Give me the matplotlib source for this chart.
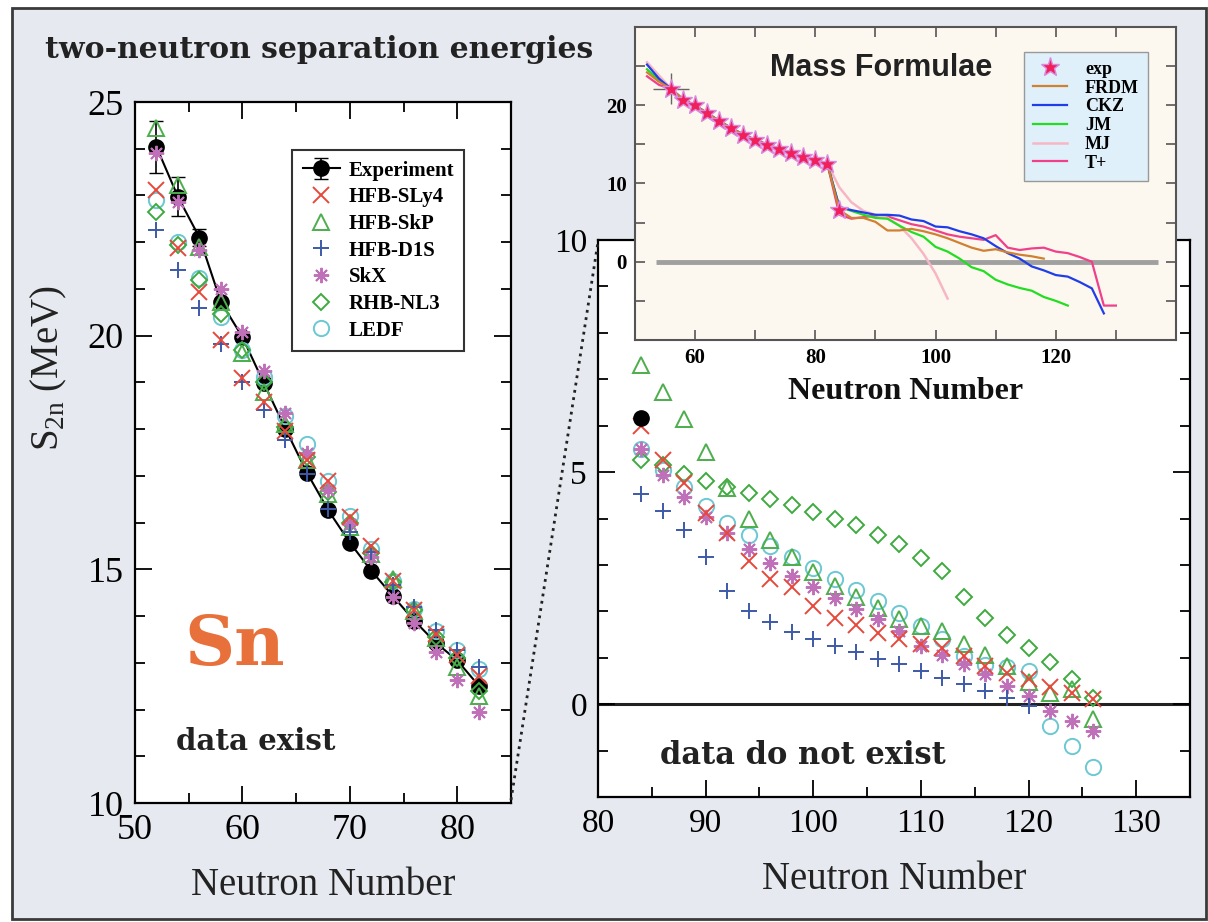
import matplotlib.pyplot as plt
import numpy as np
from matplotlib.lines import Line2D
from matplotlib.patches import Rectangle
from matplotlib.ticker import MultipleLocator

# ---- left panel: Sn, N = 52..82 (data exist)
N_left = [52, 54, 56, 58, 60, 62, 64, 66, 68, 70, 72, 74, 76, 78, 80, 82]
exp_left = [24.04, 22.97, 22.10, 20.72, 19.97, 18.98, 18.01, 17.07, 16.26, 15.57, 14.97, 14.43, 13.90, 13.43, 13.05, 12.51]
exp_err = [0.56, 0.42, 0.18, 0.06, 0, 0, 0, 0, 0, 0, 0, 0, 0, 0, 0, 0]
sly4_left = [23.11, 21.87, 20.93, 19.90, 19.09, 18.57, 17.97, 17.33, 16.88, 16.12, 15.50, 14.76, 14.12, 13.62, 13.16, 12.72]
skp_left = [24.45, 23.22, 21.90, 20.72, 19.62, 18.79, 18.10, 17.33, 16.62, 15.90, 15.33, 14.80, 14.10, 13.52, 12.92, 12.30]
d1s_left = [22.26, 21.40, 20.59, 19.83, 19.00, 18.40, 17.76, 17.05, 16.30, 15.80, 15.38, 14.66, 14.20, 13.71, 13.27, 12.90]
skx_left = [23.90, 22.86, 21.83, 20.99, 20.07, 19.24, 18.34, 17.48, 16.69, 15.97, 15.26, 14.40, 13.85, 13.24, 12.63, 11.95]
rhb_left = [22.64, 21.94, 21.19, 20.46, 19.69, 19.00, 18.04, 17.40, 16.65, 16.00, 15.36, 14.73, 14.12, 13.55, 13.10, 12.40]
ledf_left = [22.90, 22.00, 21.23, 20.39, 19.69, 19.11, 18.29, 17.69, 16.90, 16.15, 15.44, 14.76, 14.16, 13.67, 13.27, 12.87]

# ---- right panel: N = 84..126 (data do not exist)
N_right = [84, 86, 88, 90, 92, 94, 96, 98, 100, 102, 104, 106, 108, 110, 112, 114, 116, 118, 120, 122, 124, 126]
exp_right = [6.17]
sly4_right = [5.99, 5.27, 4.76, 4.12, 3.68, 3.08, 2.70, 2.53, 2.11, 1.86, 1.70, 1.54, 1.40, 1.29, 1.20, 1.04, 0.82, 0.68, 0.54, 0.36, 0.25, 0.12]
skp_right = [7.30, 6.72, 6.15, 5.44, 4.65, 3.98, 3.54, 3.18, 2.85, 2.54, 2.31, 2.08, 1.83, 1.68, 1.58, 1.29, 1.07, 0.82, 0.47, 0.25, 0.32, -0.33]
d1s_right = [4.53, 4.17, 3.76, 3.18, 2.43, 2.00, 1.76, 1.55, 1.41, 1.26, 1.12, 0.98, 0.86, 0.71, 0.57, 0.43, 0.29, 0.14, -0.04]
skx_right = [5.50, 4.94, 4.47, 4.04, 3.68, 3.34, 3.05, 2.77, 2.53, 2.29, 2.06, 1.83, 1.58, 1.25, 1.07, 0.86, 0.64, 0.39, 0.18, -0.14, -0.36, -0.57]
rhb_right = [5.26, 5.15, 4.95, 4.81, 4.68, 4.54, 4.41, 4.29, 4.15, 3.99, 3.86, 3.65, 3.45, 3.15, 2.86, 2.31, 1.86, 1.50, 1.22, 0.90, 0.54, 0.14]
ledf_right = [5.50, 5.04, 4.68, 4.27, 3.91, 3.65, 3.41, 3.18, 2.93, 2.70, 2.47, 2.22, 1.97, 1.68, 1.40, 1.04, 0.85, 0.79, 0.72, -0.47, -0.90, -1.36]

# ---- inset: mass formulae
N_star = [56, 58, 60, 62, 64, 66, 68, 70, 72, 74, 76, 78, 80, 82, 84]
star_vals = [22.10, 20.72, 19.97, 18.98, 18.01, 17.07, 16.26, 15.57, 14.97, 14.43, 13.90, 13.43, 13.05, 12.51, 6.6]
shared = [22.10, 20.72, 19.97, 18.98, 18.01, 17.07, 16.26, 15.57, 14.97, 14.43, 13.90, 13.43, 13.05, 12.51]
frdm = [24.2, 23.0] + shared + [6.6, 5.6, 5.6, 5.1, 4.0, 4.0, 4.2, 3.9, 3.5, 3.0, 2.4, 1.8, 1.4, 1.6, 1.2, 0.9, 0.7, 0.4]
ckz = [25.2, 23.4] + shared + [7.0, 6.6, 6.3, 6.0, 6.0, 5.9, 5.4, 5.2, 4.5, 4.4, 3.9, 3.5, 3.0, 2.0, 1.1, 0.4, -0.6, -1.1, -1.7, -1.9, -2.6, -3.4, -6.6]
jm = [24.6, 23.2] + shared + [7.0, 6.5, 6.0, 5.6, 5.5, 4.6, 3.8, 3.2, 1.9, 1.3, 0.4, -0.7, -1.2, -2.3, -2.9, -3.35, -3.7, -4.5, -5.0, -5.6]
mj = [25.5, 23.8] + shared + [9.5, 7.6, 6.5, 6.0, 5.6, 4.6, 3.0, 1.0, -1.5, -4.7]
tplus = [23.7, 22.6] + shared + [6.0, 5.5, 5.7, 5.9, 5.8, 5.3, 4.8, 4.5, 4.0, 3.5, 3.2, 3.0, 2.8, 3.4, 1.8, 1.5, 1.7, 1.8, 1.3, 1.1, 0.6, 0.0, -5.6, -5.6]

W, H = 1208, 922
def fx(p):
    return p / W
def fy(p):
    return 1 - p / H

serif = 'Liberation Serif'
c_sly4 = '#e8483c'
c_skp = '#4cae4c'
c_d1s = '#3d5aa8'
c_skx = '#c070b8'
c_rhb = '#3faa3f'
c_ledf = '#6cc8d2'

fig = plt.figure(figsize=(12.08, 9.22), dpi=100)
fig.patch.set_facecolor('white')
fig.add_artist(Rectangle((fx(12), fy(919)), fx(1206) - fx(12), fy(8) - fy(919),
                         transform=fig.transFigure, facecolor='#e6e9ef',
                         edgecolor='#3a3a3a', lw=2, zorder=-10))

fig.text(fx(45), fy(58), 'two-neutron separation energies', family='DejaVu Serif',
         fontweight='bold', fontsize=21.5, color='#222222', ha='left', va='baseline')


def style_axes(ax, size):
    for s in ax.spines.values():
        s.set_linewidth(1.6)
    ax.tick_params(which='both', direction='in', top=True, right=True,
                   labelsize=size, width=1.3, pad=8)
    ax.tick_params(which='major', length=12)
    ax.tick_params(which='minor', length=7)
    for lab in ax.get_xticklabels() + ax.get_yticklabels():
        lab.set_family(serif)


def markers(ax, N, sly4, skp, d1s, skx, rhb, ledf, ms):
    ax.plot(N[:len(ledf)], ledf, 'o', ms=ms, mfc='none', mec=c_ledf, mew=1.4, label='LEDF')
    ax.plot(N[:len(rhb)], rhb, 'D', ms=ms * 0.7, mfc='none', mec=c_rhb, mew=1.4, label='RHB-NL3')
    ax.plot(N[:len(skp)], skp, '^', ms=ms, mfc='none', mec=c_skp, mew=1.4, label='HFB-SkP')
    ax.plot(N[:len(skx)], skx, marker=(8, 2, 0), ls='none', ms=ms, mec=c_skx, mew=1.4, label='SkX')
    ax.plot(N[:len(d1s)], d1s, '+', ms=ms * 1.1, mec=c_d1s, mew=1.4, label='HFB-D1S')
    ax.plot(N[:len(sly4)], sly4, 'x', ms=ms, mec=c_sly4, mew=1.4, label='HFB-SLy4')


# ---------------- left panel
ax1 = fig.add_axes([fx(135), fy(803), fx(511) - fx(135), fy(102) - fy(803)])
markers(ax1, N_left, sly4_left, skp_left, d1s_left, skx_left, rhb_left, ledf_left, 11)
ax1.errorbar(N_left, exp_left, yerr=exp_err, color='black', lw=1.5, marker='o', ms=11,
             capsize=5, elinewidth=1.2, label='Experiment', zorder=1)
ax1.set_xlim(50, 85)
ax1.set_ylim(10, 25)
ax1.xaxis.set_major_locator(MultipleLocator(10))
ax1.xaxis.set_minor_locator(MultipleLocator(5))
ax1.yaxis.set_major_locator(MultipleLocator(5))
ax1.yaxis.set_minor_locator(MultipleLocator(1))
style_axes(ax1, 26)
ax1.set_xlabel('Neutron Number', family=serif, fontsize=28, color='#222222', labelpad=14)
ax1.set_ylabel('S$_\\mathregular{2n}$ (MeV)', family=serif, fontsize=28, color='#222222')
ax1.yaxis.set_label_coords(-0.175, 0.62)

h, l = ax1.get_legend_handles_labels()
order = ['Experiment', 'HFB-SLy4', 'HFB-SkP', 'HFB-D1S', 'SkX', 'RHB-NL3', 'LEDF']
hmap = dict(zip(l, h))
leg = ax1.legend([hmap[k] for k in order], order, loc='upper right',
                 bbox_to_anchor=(0.904, 0.946), fancybox=False, framealpha=1,
                 edgecolor='#333333', prop={'family': serif, 'weight': 'bold', 'size': 15},
                 labelspacing=0.32, handlelength=1.8, borderpad=0.5, handletextpad=0.4)
leg.get_frame().set_linewidth(1.5)

ax1.text(0.13, 0.197, 'Sn', transform=ax1.transAxes, family='DejaVu Serif', fontweight='bold',
         fontsize=50, color='#e8703a', ha='left', va='baseline')
ax1.text(0.11, 0.075, 'data exist', transform=ax1.transAxes, family='DejaVu Serif',
         fontweight='bold', fontsize=21, color='#222222', ha='left', va='baseline')

# ---------------- right panel
ax2 = fig.add_axes([fx(598), fy(797), fx(1190) - fx(598), fy(240) - fy(797)])
ax2.axhline(0, color='#222222', lw=2.2, zorder=0)
markers(ax2, N_right, sly4_right, skp_right, d1s_right, skx_right, rhb_right, ledf_right, 11)
ax2.plot(N_right[:1], exp_right, 'o', color='black', ms=11)
ax2.set_xlim(80, 135)
ax2.set_ylim(-2, 10)
ax2.xaxis.set_major_locator(MultipleLocator(10))
ax2.xaxis.set_minor_locator(MultipleLocator(5))
ax2.yaxis.set_major_locator(MultipleLocator(5))
ax2.yaxis.set_minor_locator(MultipleLocator(1))
style_axes(ax2, 24)
ax2.set_xlabel('Neutron Number', family=serif, fontsize=28, color='#222222', labelpad=16)
ax2.text(0.105, 0.06, 'data do not exist', transform=ax2.transAxes, family='DejaVu Serif',
         fontweight='bold', fontsize=22, color='#222222', ha='left', va='baseline')

fig.add_artist(Line2D([fx(511), fx(598)], [fy(800), fy(242)], transform=fig.transFigure,
                      ls=':', color='#222222', lw=2))

# ---------------- inset
ax3 = fig.add_axes([fx(635), fy(340), fx(1176) - fx(635), fy(27) - fy(340)])
ax3.set_facecolor('#fdf8ef')
ax3.hlines(0, 53.5, 137, color='#a0a0a0', lw=3.5)
ax3.plot(np.arange(52, 132, 2), tplus, color='#f0408a', lw=1.6, label='T+')
ax3.plot(np.arange(52, 104, 2), mj, color='#f7b6c6', lw=1.8, label='MJ')
ax3.plot(np.arange(52, 124, 2), jm, color='#22dd22', lw=1.6, label='JM')
ax3.plot(np.arange(52, 130, 2), ckz, color='#1f3de8', lw=1.6, label='CKZ')
ax3.plot(np.arange(52, 120, 2), frdm, color='#d08030', lw=1.6, label='FRDM')
ax3.errorbar([56], [22.1], xerr=3, yerr=2, color='#666666', lw=1, zorder=4)
ax3.plot(N_star, star_vals, '*', ms=14, mfc='#f2205a', mec='#d88ae0', mew=1.0, ls='none',
         label='exp', zorder=5)
ax3.set_xlim(50, 140)
ax3.set_ylim(-10, 30)
ax3.set_xticks(np.arange(60, 140, 10))
ax3.set_xticklabels(['60', '', '80', '', '100', '', '120', ''])
ax3.set_yticks(np.arange(-5, 30, 5))
ax3.set_yticklabels(['', '0', '', '10', '', '20', ''])
for s in ax3.spines.values():
    s.set_color('#555555')
    s.set_linewidth(1.5)
ax3.tick_params(direction='in', top=True, right=True, length=7, width=1.2, color='#555555',
                labelsize=15, pad=6)
for lab in ax3.get_xticklabels() + ax3.get_yticklabels():
    lab.set_family(serif)
    lab.set_fontweight('bold')
ax3.set_xlabel('Neutron Number', family=serif, fontweight='bold', fontsize=23,
               color='#111111', labelpad=6)
ax3.text(0.455, 0.87, 'Mass Formulae', transform=ax3.transAxes, family='Liberation Sans',
         fontweight='bold', fontsize=22, color='#222222', ha='center', va='center')

h, l = ax3.get_legend_handles_labels()
hmap = dict(zip(l, h))
order = ['exp', 'FRDM', 'CKZ', 'JM', 'MJ', 'T+']
leg3 = ax3.legend([hmap[k] for k in order], order, loc='upper right',
                  bbox_to_anchor=(0.965, 0.95), fancybox=False, framealpha=1,
                  facecolor='#dff0fa', edgecolor='#999999',
                  prop={'family': serif, 'weight': 'bold', 'size': 13},
                  labelspacing=0.1, handlelength=1.9, borderpad=0.5, handletextpad=1.0)

fig.savefig('out.png', dpi=100)
